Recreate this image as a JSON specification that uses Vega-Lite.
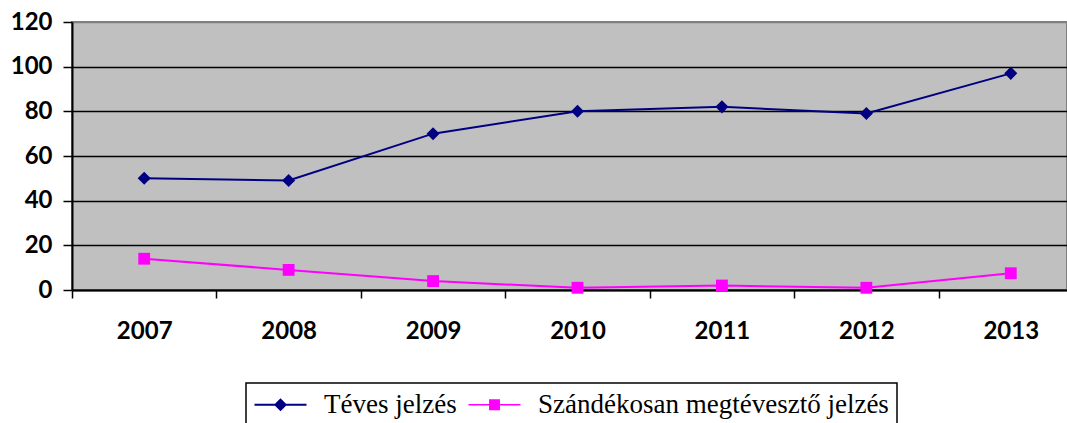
{
  "$schema": "https://vega.github.io/schema/vega-lite/v6.json",
  "autosize": {"type": "none"},
  "padding": {"left": 72, "top": 22, "right": 0, "bottom": 133},
  "width": 995,
  "height": 268,
  "background": "white",
  "config": {
    "view": {"fill": "#C0C0C0", "stroke": "#808080", "strokeWidth": 2},
    "axis": {"labelFont": "Lato", "labelFontWeight": "bold", "labelFontSize": 24, "labelColor": "black", "domainColor": "black", "tickColor": "black", "title": null}
  },
  "data": {
    "values": [
      {"year": "2007", "series": "Téves jelzés", "value": 50},
      {"year": "2008", "series": "Téves jelzés", "value": 49},
      {"year": "2009", "series": "Téves jelzés", "value": 70},
      {"year": "2010", "series": "Téves jelzés", "value": 80},
      {"year": "2011", "series": "Téves jelzés", "value": 82},
      {"year": "2012", "series": "Téves jelzés", "value": 79},
      {"year": "2013", "series": "Téves jelzés", "value": 97},
      {"year": "2007", "series": "Szándékosan megtévesztő jelzés", "value": 14},
      {"year": "2008", "series": "Szándékosan megtévesztő jelzés", "value": 9},
      {"year": "2009", "series": "Szándékosan megtévesztő jelzés", "value": 4},
      {"year": "2010", "series": "Szándékosan megtévesztő jelzés", "value": 1},
      {"year": "2011", "series": "Szándékosan megtévesztő jelzés", "value": 2},
      {"year": "2012", "series": "Szándékosan megtévesztő jelzés", "value": 1},
      {"year": "2013", "series": "Szándékosan megtévesztő jelzés", "value": 7.5}
    ]
  },
  "encoding": {
    "x": {
      "field": "year", "type": "ordinal",
      "scale": {"type": "band", "paddingInner": 0, "paddingOuter": 0, "range": [0, 1011]},
      "axis": {"labelAngle": 0, "tickBand": "extent", "tickSize": 8, "tickWidth": 1.5, "domainWidth": 2, "labelPadding": 21, "labelBaseline": "top", "grid": false}
    },
    "y": {
      "field": "value", "type": "quantitative",
      "scale": {"domain": [0, 120], "nice": false},
      "axis": {"values": [0, 20, 40, 60, 80, 100, 120], "tickSize": 9, "tickWidth": 1.5, "domainWidth": 2, "labelPadding": 11, "grid": true, "gridWidth": 1.5,
        "gridColor": {"condition": {"test": "datum.value == 120", "value": "#808080"}, "value": "black"}}
    },
    "color": {
      "field": "series", "type": "nominal",
      "scale": {"domain": ["Téves jelzés", "Szándékosan megtévesztő jelzés"], "range": ["#000080", "#FF00FF"]},
      "legend": {
        "title": null,
        "orient": "none",
        "legendX": 174,
        "legendY": 361,
        "direction": "horizontal",
        "padding": 8,
        "strokeColor": "black",
        "labelFont": "Liberation Serif",
        "labelFontSize": 27,
        "labelFontWeight": "normal",
        "labelColor": "black",
        "labelLimit": 0,
        "symbolSize": 676,
        "symbolOffset": 13,
        "labelOffset": 30,
        "columnPadding": 11,
        "symbolStrokeWidth": 0,
        "symbolType": "M-2,-0.08H2V0.08H-2Z",
        "encode": {
          "symbols": {
            "update": {
              "shape": {"signal": "datum.value === 'Téves jelzés' ? 'M-2,-0.08H2V0.08H-2Z M0,-0.5L0.5,0L0,0.5L-0.5,0Z' : 'M-2,-0.06H2V0.06H-2Z M-0.42,-0.42H0.42V0.42H-0.42Z'"},
              "fill": {"scale": "color", "field": "value"},
              "strokeWidth": {"value": 0},
              "opacity": {"value": 1}
            }
          },
          "legend": {
            "update": {"strokeWidth": {"value": 1.5}}
          }
        }
      }
    }
  },
  "layer": [
    {
      "mark": {"type": "line", "strokeWidth": 2}
    },
    {
      "transform": [{"filter": "datum.series === 'Téves jelzés'"}],
      "mark": {"type": "point", "filled": true, "opacity": 1, "size": 170, "shape": "diamond"}
    },
    {
      "transform": [{"filter": "datum.series !== 'Téves jelzés'"}],
      "mark": {"type": "point", "filled": true, "opacity": 1, "size": 140, "shape": "square"}
    }
  ]
}
